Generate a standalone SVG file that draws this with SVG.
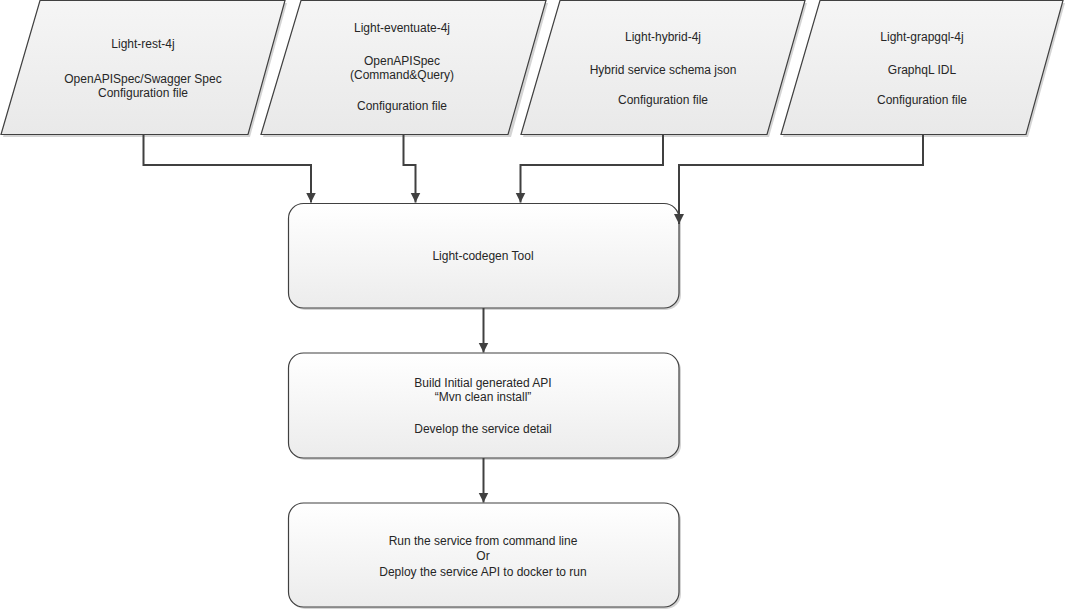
<svg xmlns="http://www.w3.org/2000/svg" width="1069" height="611" viewBox="0 0 1069 611">
  <defs>
    <linearGradient id="gPara" x1="0" y1="0" x2="0" y2="1">
      <stop offset="0" stop-color="#f5f5f5"/>
      <stop offset="1" stop-color="#e9e9e9"/>
    </linearGradient>
    <linearGradient id="gBox" x1="0" y1="0" x2="0" y2="1">
      <stop offset="0" stop-color="#ffffff"/>
      <stop offset="1" stop-color="#ececec"/>
    </linearGradient>
    <marker id="arrow" markerUnits="userSpaceOnUse" markerWidth="11" markerHeight="11" refX="10" refY="5" orient="auto">
      <path d="M0,0 L10,5 L0,10 z" fill="#404040"/>
    </marker>
  </defs>
  <style>
    .shadow { fill: #d4d4d4; stroke: none; }
    .para { fill: url(#gPara); stroke: #404040; stroke-width: 1.2; }
    .box { fill: url(#gBox); stroke: #404040; stroke-width: 1.2; }
    .lbl { font-family: "Liberation Sans", Arial, sans-serif; font-size: 12px; fill: #262626; text-anchor: middle; }
    .conn { fill: none; stroke: #404040; stroke-width: 2; marker-end: url(#arrow); }
  </style>
  <rect width="1069" height="611" fill="#ffffff"/>

  <g id="node-rest">
    <polygon class="shadow" points="42,3 287,3 250,137 3,137"/>
    <polygon class="para" points="40,0.5 285,0.5 248,134.5 1,134.5"/>
    <text class="lbl" x="143" y="48">Light-rest-4j</text>
    <text class="lbl" x="143" y="83">OpenAPISpec/Swagger Spec</text>
    <text class="lbl" x="143" y="96.5">Configuration file</text>
  </g>

  <g id="node-eventuate">
    <polygon class="shadow" points="303,3 548,3 511,137 263,137"/>
    <polygon class="para" points="301,0.5 546,0.5 508,134.5 261,134.5"/>
    <text class="lbl" x="402" y="32">Light-eventuate-4j</text>
    <text class="lbl" x="402" y="65">OpenAPISpec</text>
    <text class="lbl" x="402" y="79">(Command&amp;Query)</text>
    <text class="lbl" x="402" y="110">Configuration file</text>
  </g>

  <g id="node-hybrid">
    <polygon class="shadow" points="562,3 807,3 769,137 523,137"/>
    <polygon class="para" points="560,0.5 805,0.5 767,134.5 521,134.5"/>
    <text class="lbl" x="663" y="40.5">Light-hybrid-4j</text>
    <text class="lbl" x="663" y="73.5">Hybrid service schema json</text>
    <text class="lbl" x="663" y="103.5">Configuration file</text>
  </g>

  <g id="node-graphql">
    <polygon class="shadow" points="822,3 1065,3 1028,137 783,137"/>
    <polygon class="para" points="820,0.5 1063,0.5 1026,134.5 781,134.5"/>
    <text class="lbl" x="922" y="40.5">Light-grapgql-4j</text>
    <text class="lbl" x="922" y="73.5">GraphqL IDL</text>
    <text class="lbl" x="922" y="103.5">Configuration file</text>
  </g>

  <g id="node-codegen">
    <rect class="shadow" x="290" y="205" width="391" height="105" rx="15" ry="15"/>
    <rect class="box" x="288.5" y="203.5" width="390.5" height="104.5" rx="15" ry="15"/>
    <text class="lbl" x="483" y="259.5">Light-codegen Tool</text>
  </g>

  <g id="node-build">
    <rect class="shadow" x="290" y="355" width="391" height="105" rx="15" ry="15"/>
    <rect class="box" x="288.5" y="353" width="390.5" height="105" rx="15" ry="15"/>
    <text class="lbl" x="483" y="387">Build Initial generated API</text>
    <text class="lbl" x="483" y="401">“Mvn clean install”</text>
    <text class="lbl" x="483" y="432.5">Develop the service detail</text>
  </g>

  <g id="node-run">
    <rect class="shadow" x="290" y="505" width="391" height="104" rx="15" ry="15"/>
    <rect class="box" x="288.5" y="503" width="390.5" height="104" rx="15" ry="15"/>
    <text class="lbl" x="483" y="545">Run the service from command line</text>
    <text class="lbl" x="483" y="560">Or</text>
    <text class="lbl" x="483" y="576">Deploy the service API to docker to run</text>
  </g>

  <g id="connectors">
    <path class="conn" d="M143.5,134.5 V165 H311 V202.5"/>
    <path class="conn" d="M403.5,134.5 V165 H415.5 V202.5"/>
    <path class="conn" d="M663,134.5 V165 H520.5 V202.5"/>
    <path class="conn" d="M923,134.5 V165 H679 V224"/>
    <path class="conn" d="M483.5,308 V352.5"/>
    <path class="conn" d="M483.5,458 V502.5"/>
  </g>
</svg>
